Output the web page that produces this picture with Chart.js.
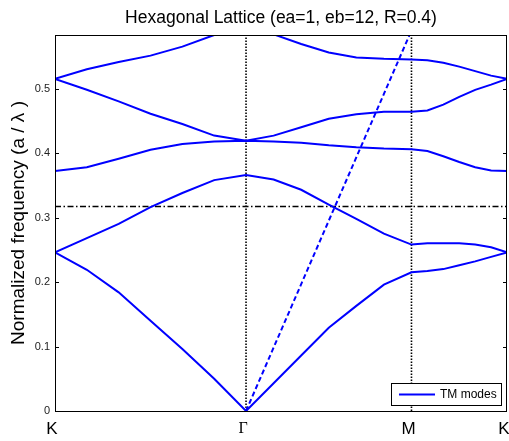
<!DOCTYPE html>
<html lang="en">
<head>
<meta charset="UTF-8">
<title>Hexagonal Lattice Band Structure</title>
<script src="https://cdn.jsdelivr.net/npm/chart.js"></script>
<style>
  body {
    margin: 0;
    background: #fff;
  }
  #wrap {
    width: 509px;
    height: 441px;
  }
</style>
</head>
<body>
<div id="wrap"><canvas id="bandChart" width="509" height="441"></canvas></div>

<script>
  // k-path distance of each sample point: K -> Gamma -> M -> K, 6 steps per leg
  const kPath = [0, 0.2222, 0.4444, 0.6667, 0.8889, 1.1111, 1.3333,
                 1.5258, 1.7182, 1.9107, 2.1031, 2.2956, 2.4880,
                 2.5991, 2.7102, 2.8214, 2.9325, 3.0436, 3.1547];
  const symPoints = [0, 1.3333, 2.4880, 3.1547];
  const symLabels = ['K', 'Γ', 'M', 'K'];
  const yTicks = [0, 0.1, 0.2, 0.3, 0.4, 0.5];
  const yMax = 0.583;
  const titleText = 'Hexagonal Lattice (ea=1, eb=12, R=0.4)';

  // TM bands, one value per k-point
  const band1 = [0.246, 0.219, 0.184, 0.140, 0.096, 0.050, 0.000,
                 0.043, 0.086, 0.129, 0.163, 0.196, 0.215,
                 0.217, 0.220, 0.226, 0.232, 0.239, 0.246];
  const band2 = [0.246, 0.268, 0.290, 0.316, 0.338, 0.358, 0.366,
                 0.359, 0.343, 0.320, 0.298, 0.275, 0.258,
                 0.260, 0.260, 0.260, 0.258, 0.254, 0.246];
  const band3 = [0.372, 0.378, 0.391, 0.405, 0.414, 0.418, 0.419,
                 0.418, 0.416, 0.412, 0.409, 0.407, 0.406,
                 0.403, 0.395, 0.386, 0.378, 0.373, 0.372];
  const band4 = [0.515, 0.498, 0.480, 0.461, 0.445, 0.427, 0.419,
                 0.427, 0.440, 0.453, 0.460, 0.464, 0.464,
                 0.466, 0.475, 0.487, 0.498, 0.506, 0.515];
  const band5 = [0.515, 0.530, 0.541, 0.551, 0.565, 0.583, 0.592,
                 0.584, 0.569, 0.556, 0.548, 0.546, 0.545,
                 0.544, 0.540, 0.534, 0.527, 0.520, 0.515];

  // light line along Gamma-M, and the reference frequency
  const lightLine = [0, 0.59];
  const refFreq = 0.317;

  const blue = '#0000ff';
  const sans = 'Arial, "Liberation Sans", sans-serif';
  const toXY = vals => vals.map((v, i) => ({ x: kPath[i], y: v }));

  const bandSet = (vals, label) => ({
    label: label,
    data: toXY(vals),
    borderColor: blue,
    borderWidth: 2,
    pointRadius: 0,
    tension: 0,
    fill: false
  });

  const datasets = [
    bandSet(band1, 'TM modes'),
    bandSet(band2, ''),
    bandSet(band3, ''),
    bandSet(band4, ''),
    bandSet(band5, ''),
    {
      label: '',
      data: [{ x: symPoints[1], y: lightLine[0] }, { x: symPoints[2], y: lightLine[1] }],
      borderColor: blue,
      borderWidth: 2,
      borderDash: [5, 3],
      pointRadius: 0
    },
    {
      label: '',
      data: [{ x: symPoints[0], y: refFreq }, { x: symPoints[3], y: refFreq }],
      borderColor: '#000',
      borderWidth: 1.5,
      borderDash: [6, 2.5, 1.5, 2.5],
      pointRadius: 0
    },
    {
      label: '',
      data: [{ x: symPoints[1], y: 0 }, { x: symPoints[1], y: yMax }],
      borderColor: '#000',
      borderWidth: 1.6,
      borderDash: [1.5, 1.5],
      pointRadius: 0
    },
    {
      label: '',
      data: [{ x: symPoints[2], y: 0 }, { x: symPoints[2], y: yMax }],
      borderColor: '#000',
      borderWidth: 1.6,
      borderDash: [1.5, 1.5],
      pointRadius: 0
    }
  ];

  // title over the plot box, axes box, inward ticks and the little legend box
  const framePlugin = {
    id: 'frame',
    afterDraw(chart) {
      const { ctx, chartArea: a } = chart;
      const yScale = chart.scales.y;
      ctx.save();

      ctx.fillStyle = '#000';
      ctx.font = '17.5px ' + sans;
      ctx.textAlign = 'center';
      ctx.textBaseline = 'middle';
      ctx.fillText(titleText, (a.left + a.right) / 2, 18);

      ctx.strokeStyle = '#000';
      ctx.lineWidth = 1;
      ctx.strokeRect(a.left + 0.5, a.top + 0.5, a.right - a.left - 1, a.bottom - a.top);
      yTicks.forEach(v => {
        const py = Math.round(yScale.getPixelForValue(v)) + 0.5;
        ctx.beginPath();
        ctx.moveTo(a.left, py); ctx.lineTo(a.left + 4, py);
        ctx.moveTo(a.right, py); ctx.lineTo(a.right - 4, py);
        ctx.stroke();
      });

      // legend
      const ds = chart.data.datasets[0];
      const bx = a.right - 116, by = a.bottom - 28, bw = 110, bh = 22;
      ctx.fillStyle = '#fff';
      ctx.fillRect(bx, by, bw, bh);
      ctx.strokeRect(bx + 0.5, by + 0.5, bw, bh);
      ctx.strokeStyle = ds.borderColor;
      ctx.lineWidth = 2;
      ctx.beginPath();
      ctx.moveTo(bx + 8, by + 11.5);
      ctx.lineTo(bx + 44, by + 11.5);
      ctx.stroke();
      ctx.fillStyle = '#000';
      ctx.font = '12px ' + sans;
      ctx.textBaseline = 'middle';
      ctx.textAlign = 'left';
      ctx.fillText(ds.label, bx + 49, by + 12);
      ctx.restore();
    }
  };

  const ctx = document.getElementById('bandChart').getContext('2d');
  const chart = new Chart(ctx, {
    type: 'line',
    data: { datasets: datasets },
    plugins: [framePlugin],
    options: {
      responsive: false,
      animation: false,
      layout: { padding: { left: 0, right: 2, top: 35, bottom: 0 } },
      plugins: {
        legend: { display: false },
        tooltip: { enabled: false },
        title: { display: false }
      },
      scales: {
        x: {
          type: 'linear',
          min: symPoints[0],
          max: symPoints[3],
          grid: { display: false, drawTicks: false },
          border: { display: false },
          afterBuildTicks: scale => {
            scale.ticks = symPoints.map(v => ({ value: v }));
          },
          afterFit: scale => {
            scale.height = 30;
            scale.paddingLeft = 0;
            scale.paddingRight = 0;
          },
          ticks: {
            autoSkip: false,
            maxRotation: 0,
            padding: 8,
            labelOffset: -3,
            color: '#000',
            font: c => c.index === 1
              ? { family: '"Liberation Serif", serif', size: 16 }
              : { family: sans, size: 17 },
            callback: (v, i) => symLabels[i]
          }
        },
        y: {
          min: 0,
          max: yMax,
          grid: { display: false, drawTicks: false },
          border: { display: false },
          afterBuildTicks: scale => {
            scale.ticks = yTicks.map(v => ({ value: v }));
          },
          afterFit: scale => {
            scale.width = 55;
            scale.paddingTop = 0;
            scale.paddingBottom = 0;
          },
          ticks: {
            padding: 5,
            color: '#222',
            font: { family: sans, size: 11 },
            callback: v => v === 0 ? '0' : v.toFixed(1)
          },
          title: {
            display: true,
            text: 'Normalized frequency (a / λ )',
            color: '#000',
            font: { family: sans, size: 19 },
            padding: { top: 7, bottom: 0 }
          }
        }
      }
    }
  });
</script>
</body>
</html>
